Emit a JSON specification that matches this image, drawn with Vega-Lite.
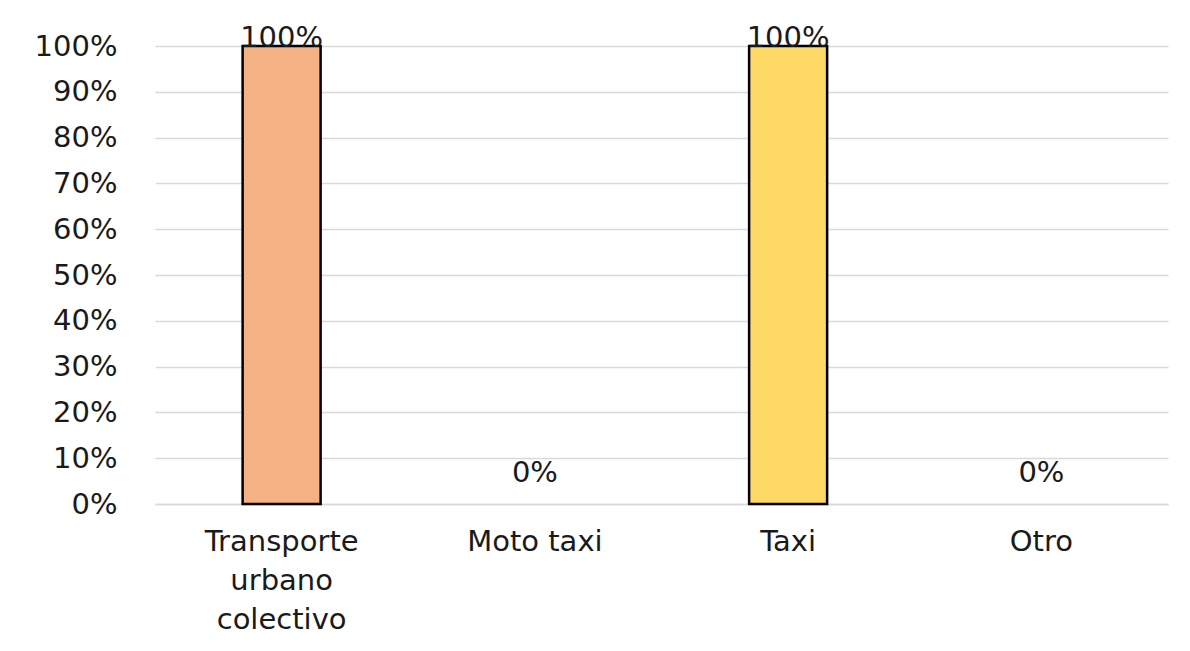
{
  "$schema": "https://vega.github.io/schema/vega-lite/v6.json",
  "autosize": "none",
  "padding": {"left": 155, "top": 46, "right": 22, "bottom": 147},
  "width": 1013,
  "height": 458,
  "background": "white",
  "config": {
    "view": {"stroke": null},
    "font": "DejaVu Sans",
    "axis": {"labelFont": "DejaVu Sans", "labelColor": "#1a1a1a"}
  },
  "data": {
    "values": [
      {"modo": "Transporte urbano colectivo", "pct": 1.0},
      {"modo": "Moto taxi", "pct": 0.0},
      {"modo": "Taxi", "pct": 1.0},
      {"modo": "Otro", "pct": 0.0}
    ]
  },
  "encoding": {
    "x": {
      "field": "modo", "type": "nominal",
      "sort": ["Transporte urbano colectivo", "Moto taxi", "Taxi", "Otro"],
      "scale": {"domain": ["Transporte urbano colectivo", "Moto taxi", "Taxi", "Otro"], "paddingInner": 0.692, "paddingOuter": 0.346},
      "axis": {
        "title": null, "labelAngle": 0, "ticks": false,
        "domainColor": "#d9d9d9", "domainWidth": 1.5,
        "labelPadding": 23, "labelFontSize": 29, "labelLineHeight": 39,
        "labelExpr": "datum.value == 'Transporte urbano colectivo' ? ['Transporte', 'urbano', 'colectivo'] : datum.value"
      }
    },
    "y": {
      "field": "pct", "type": "quantitative",
      "scale": {"domain": [0, 1]},
      "axis": {
        "title": null, "format": ".0%", "values": [0, 0.1, 0.2, 0.3, 0.4, 0.5, 0.6, 0.7, 0.8, 0.9, 1.0],
        "domain": false, "ticks": false, "labelPadding": 38, "labelFontSize": 29,
        "gridColor": "#d9d9d9", "gridWidth": 1.5
      }
    }
  },
  "layer": [
    {
      "transform": [{"filter": "datum.pct > 0"}],
      "mark": {"type": "bar", "stroke": "black", "strokeWidth": 2.5},
      "encoding": {
        "color": {
          "field": "modo", "type": "nominal", "legend": null,
          "scale": {
            "domain": ["Transporte urbano colectivo", "Moto taxi", "Taxi", "Otro"],
            "range": ["#F4B183", "#C9C9C9", "#FFD966", "#9DC3E6"]
          }
        }
      }
    },
    {
      "transform": [{"filter": "datum.pct > 0"}],
      "mark": {"type": "text", "baseline": "alphabetic", "dy": 1, "fontSize": 29, "color": "#1a1a1a"},
      "encoding": {"text": {"field": "pct", "format": ".0%"}}
    },
    {
      "transform": [{"filter": "datum.pct == 0"}],
      "mark": {"type": "text", "baseline": "alphabetic", "dy": -22, "fontSize": 29, "color": "#1a1a1a"},
      "encoding": {"text": {"field": "pct", "format": ".0%"}}
    }
  ]
}
